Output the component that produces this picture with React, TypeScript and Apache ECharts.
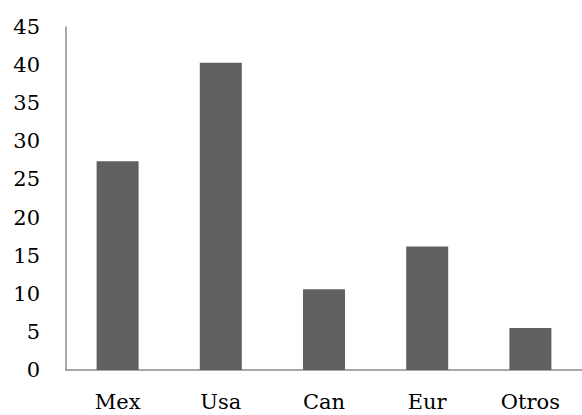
import React, { useEffect, useRef } from "react";
import * as echarts from "echarts";

const categories = ["Mex", "Usa", "Can", "Eur", "Otros"];
const values = [27.4, 40.3, 10.6, 16.2, 5.5];
const yMin = 0;
const yMax = 45;
const yStep = 5;

export default function App() {
  const ref = useRef<HTMLDivElement>(null);

  useEffect(() => {
    if (!ref.current) return;
    const chart = echarts.init(ref.current, null, { renderer: "svg" });
    const font = "'DejaVu Serif', serif";
    chart.setOption({
      animation: false,
      grid: { left: 66, top: 27, bottom: 45, width: 526 },
      xAxis: {
        type: "category",
        data: categories,
        axisLine: { show: true, lineStyle: { color: "#8c8c8c", width: 1.5 } },
        axisTick: { show: false },
        axisLabel: { color: "#000", fontSize: 21, fontFamily: font, margin: 21 },
      },
      yAxis: {
        type: "value",
        min: yMin,
        max: yMax,
        interval: yStep,
        axisLine: { show: true, lineStyle: { color: "#8c8c8c", width: 1.5 } },
        axisTick: { show: false },
        splitLine: { show: false },
        axisLabel: { color: "#000", fontSize: 21, fontFamily: font, margin: 26 },
      },
      series: [
        {
          type: "bar",
          data: values,
          barWidth: 42,
          itemStyle: { color: "#606060" },
        },
      ],
    });
    return () => chart.dispose();
  }, []);

  return <div ref={ref} style={{ width: 582, height: 415, position: "absolute", left: 0, top: 0 }} />;
}
